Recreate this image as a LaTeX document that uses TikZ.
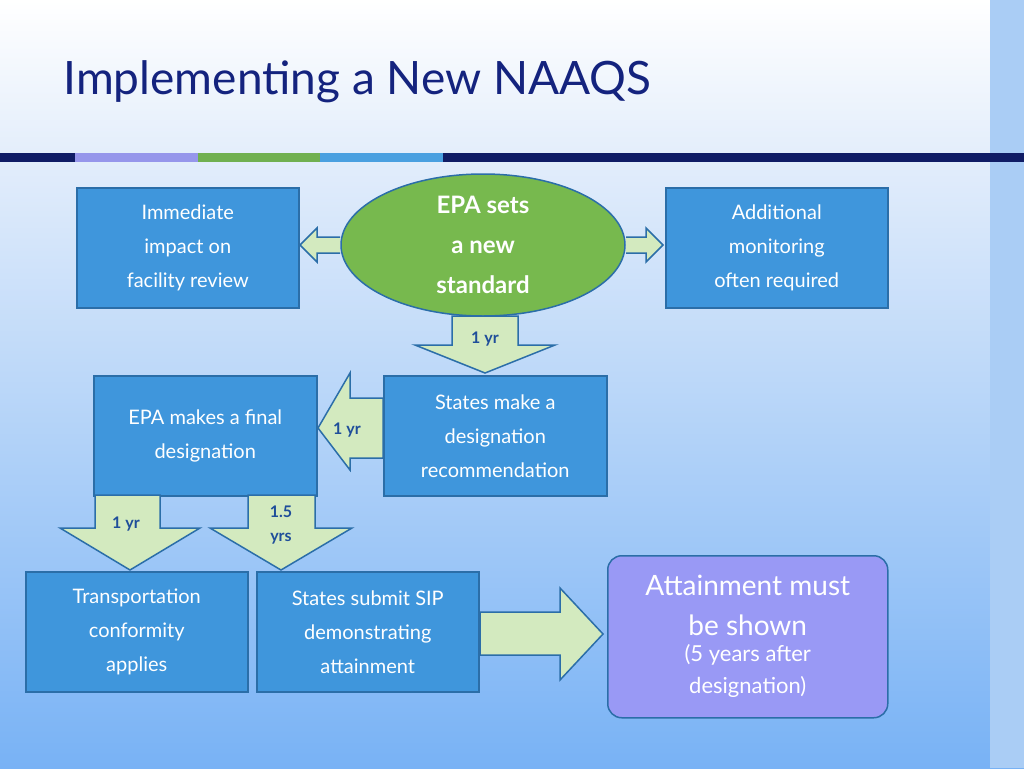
\documentclass[tikz,border=0pt]{standalone}
\usepackage{fontspec}
\setmainfont{Lato}
\usetikzlibrary{shapes.geometric}
\definecolor{boxc}{HTML}{3F96DC}
\definecolor{edgec}{HTML}{2B6EA8}
\definecolor{arrc}{HTML}{D3EABF}
\definecolor{titc}{HTML}{14237E}
\definecolor{labc}{HTML}{1F4E9A}
\definecolor{bgtop}{HTML}{E4EEFB}
\definecolor{bgbot}{HTML}{78B2F5}
\definecolor{strip}{HTML}{AACDF5}
\definecolor{segA}{HTML}{9696EB}
\definecolor{segB}{HTML}{70B050}
\definecolor{segC}{HTML}{4AA0E0}
\definecolor{purp}{HTML}{9999F5}
\definecolor{ellc}{HTML}{77B94E}
\begin{document}
\begin{tikzpicture}[x=1pt,y=-1pt,
 box/.style={draw=edgec,line width=1.5pt,fill=boxc,text=white,align=center,font=\fontsize{20}{34}\selectfont,anchor=north west,inner sep=0pt},
 barrow/.style={draw=edgec,line width=1.5pt,fill=arrc},
 lab/.style={text=labc,font=\bfseries\fontsize{16}{20}\selectfont,align=center}]
\useasboundingbox (0,0) rectangle (1024,768);
\shade[top color=white,bottom color=bgtop] (0,0) rectangle (1024,150);
\shade[top color=bgtop,bottom color=bgbot] (0,150) rectangle (1024,768);
\fill[strip] (990,0) rectangle (1024,768);
\fill[titc!80!black] (0,153) rectangle (1024,162);
\fill[segA] (75,153) rectangle (198,162);
\fill[segB] (198,153) rectangle (320,162);
\fill[segC] (320,153) rectangle (443,162);
\node[anchor=west,text=titc,font=\fontsize{46}{50}\selectfont] (title) at (60,82) {Implementing a New NAAQS};
% boxes
\node[box,minimum width=222,minimum height=120] (imm) at (76,187) {Immediate\\impact on\\facility review};
\node[box,minimum width=222,minimum height=120] (add) at (665,187) {Additional\\monitoring\\often required};
\node[box,minimum width=223,minimum height=120] (states) at (383,375) {States make a\\designation\\recommendation};
\node[box,minimum width=223,minimum height=120] (final) at (93,375) {\raisebox{12pt}{\parbox{210pt}{\centering EPA makes a final\\designation}}};
\node[box,minimum width=222,minimum height=120] (trans) at (25,571) {Transportation\\conformity\\applies};
\node[box,minimum width=222,minimum height=120] (sip) at (256,571) {\raisebox{8pt}{\parbox{210pt}{\centering States submit SIP\\demonstrating\\attainment}}};
\node[draw=edgec,line width=1.5pt,fill=purp,rounded corners=14pt,anchor=north west,minimum width=280,minimum height=162,text=white,inner sep=0pt] (att) at (607,555) {\parbox{270pt}{\centering\fontsize{28}{40}\selectfont Attainment must\\be shown\\[-6pt]\fontsize{22}{32}\selectfont (5 years after\\designation)}};
% arrows
\draw[barrow] (340,237)--(317,237)--(317,228)--(300,245)--(317,262)--(317,253)--(340,253);
\draw[barrow] (626,237)--(646,237)--(646,228)--(663,245)--(646,262)--(646,253)--(626,253);
\draw[barrow] (452,316)--(452,345)--(415,345)--(485,373)--(555,345)--(518,345)--(518,316)--cycle;
\draw[barrow] (383,398)--(350,398)--(350,373)--(318,428)--(350,470)--(350,458)--(383,458)--cycle;
\draw[barrow] (95,495)--(95,528)--(60,528)--(130,570)--(200,528)--(160,528)--(160,495)--cycle;
\draw[barrow] (248,495)--(248,528)--(210,528)--(281,570)--(352,528)--(315,528)--(315,495)--cycle;
\draw[barrow] (480,612)--(560,612)--(560,588)--(603,634)--(560,680)--(560,655)--(480,655)--cycle;
\node[draw=edgec,line width=1.5pt,fill=ellc,ellipse,minimum width=284,minimum height=142,text=white,inner sep=0pt] (epa) at (483,245) {\raisebox{4pt}{\parbox{150pt}{\centering\bfseries\fontsize{24}{40}\selectfont EPA sets\\a new\\standard}}};
\node[lab] (l1) at (485,339) {1 yr};
\node[lab] (l2) at (347,430) {1 yr};
\node[lab] (l3) at (126,524) {1 yr};
\node[lab,font=\bfseries\fontsize{16}{24}\selectfont] (l4) at (281,525) {1.5\\yrs};
\end{tikzpicture}
\end{document}
